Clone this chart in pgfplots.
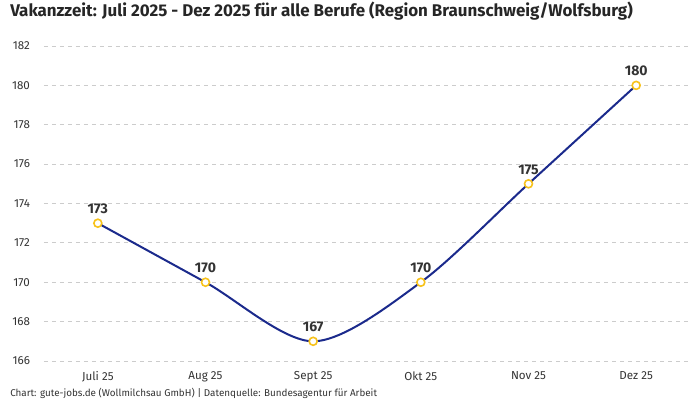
\documentclass[border=0pt]{standalone}
\usepackage{fontspec}
\setmainfont{Fira Sans}
\usepackage{pgfplots}
\pgfplotsset{compat=1.18}
\definecolor{linie}{HTML}{1B2A8C}
\definecolor{punkt}{HTML}{F7C21B}
\definecolor{gitter}{HTML}{CCCCCC}
\definecolor{schrift}{HTML}{333333}
\begin{document}
\begin{tikzpicture}[x=0.75pt,y=0.75pt]
  % page = 700 x 400 px, origin at the axis' lower left corner
  \useasboundingbox (-44,-39) rectangle (656,361);
  \begin{axis}[
      at={(0,0)}, anchor=south west,
      scale only axis,
      width=484.5pt, height=236.25pt,
      xmin=-0.5, xmax=5.5,
      ymin=166, ymax=182,
      xtick={0,...,5},
      xticklabels={Juli 25, Aug 25, Sept 25, Okt 25, Nov 25, Dez 25},
      ytick={166,168,...,182},
      axis line style={draw=none},
      tick style={draw=none},
      ymajorgrids,
      grid style={dashed, gitter, line width=0.6pt},
      tick label style={font=\fontsize{8.7}{10}\selectfont, text=schrift},
      /pgf/number format/assume math mode=true,
      yticklabel style={xshift=-7pt},
      xticklabel style={yshift=-4.5pt},
      clip=false,
    ]
    \addplot[
      linie, line width=1.5pt, smooth,
      mark=*, mark size=3pt,
      mark options={fill=white, draw=punkt, line width=1.2pt},
      nodes near coords,
      every node near coord/.append style={font=\fontsize{10.5}{12}\selectfont\bfseries, text=black!80, yshift=3pt},
    ] coordinates {
      (0,173)
      (1,170)
      (2,167)
      (3,170)
      (4,175)
      (5,180)
    };
  \end{axis}
  \node[anchor=west, font=\fontsize{12.7}{15}\selectfont\bfseries, text=black!85, inner sep=0] at (-34,350)
    {Vakanzzeit: Juli 2025 - Dez 2025 für alle Berufe (Region Braunschweig/Wolfsburg)};
  \node[anchor=west, font=\fontsize{7.4}{9}\selectfont, text=schrift, inner sep=0] at (-34,-32)
    {Chart: gute-jobs.de (Wollmilchsau GmbH) | Datenquelle: Bundesagentur für Arbeit};
\end{tikzpicture}
\end{document}
